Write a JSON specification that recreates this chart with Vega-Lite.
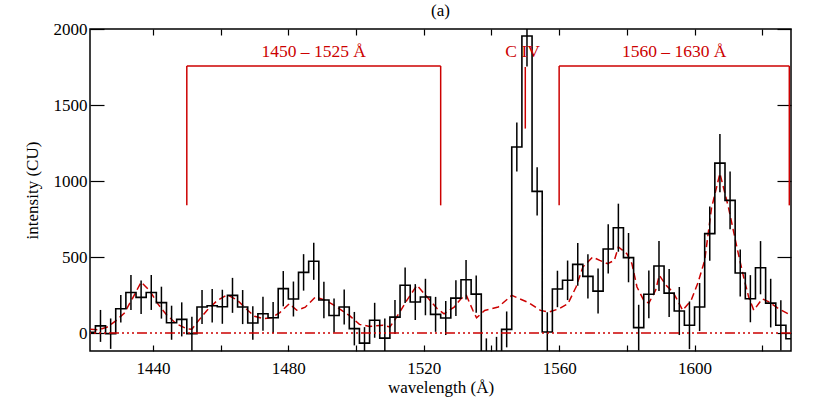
{
  "$schema": "https://vega.github.io/schema/vega-lite/v6.json",
  "width": 701,
  "height": 322,
  "autosize": "none",
  "padding": {"left": 90, "top": 29, "right": 26, "bottom": 58},
  "background": "white",
  "title": {"text": "(a)", "font": "Liberation Serif", "fontSize": 17, "fontWeight": "normal", "color": "black", "offset": 0},
  "config": {
    "view": {"stroke": "black", "strokeWidth": 1.5},
    "axis": {"grid": false, "domain": false, "tickColor": "black", "tickWidth": 1.2, "labelFont": "Liberation Serif", "labelFontSize": 17, "labelColor": "black", "titleFont": "Liberation Serif", "titleFontSize": 17, "titleFontWeight": "normal", "titleColor": "black"}
  },
  "datasets": {
    "bins": [
      {"lam": 1421.5, "v": 5, "e": null},
      {"lam": 1424.5, "v": 47, "e": 105},
      {"lam": 1427.5, "v": -4, "e": 100},
      {"lam": 1430.5, "v": 160, "e": 90},
      {"lam": 1433.5, "v": 267, "e": 115},
      {"lam": 1436.5, "v": 235, "e": 110},
      {"lam": 1439.5, "v": 267, "e": 115},
      {"lam": 1442.5, "v": 200, "e": 105},
      {"lam": 1445.5, "v": 68, "e": 112},
      {"lam": 1448.5, "v": 90, "e": 112},
      {"lam": 1451.5, "v": -4, "e": 112},
      {"lam": 1454.5, "v": 171, "e": 112},
      {"lam": 1457.5, "v": 180, "e": 110},
      {"lam": 1460.5, "v": 173, "e": 112},
      {"lam": 1463.5, "v": 248, "e": 115},
      {"lam": 1466.5, "v": 171, "e": 112},
      {"lam": 1469.5, "v": 66, "e": 110},
      {"lam": 1472.5, "v": 127, "e": 112},
      {"lam": 1475.5, "v": 101, "e": 103},
      {"lam": 1478.5, "v": 292, "e": 116},
      {"lam": 1481.5, "v": 224, "e": 115},
      {"lam": 1484.5, "v": 399, "e": 120},
      {"lam": 1487.5, "v": 472, "e": 122},
      {"lam": 1490.5, "v": 217, "e": 120},
      {"lam": 1493.5, "v": 116, "e": 112},
      {"lam": 1496.5, "v": 171, "e": 115},
      {"lam": 1499.5, "v": 29, "e": 110},
      {"lam": 1502.5, "v": -66, "e": 105},
      {"lam": 1505.5, "v": 84, "e": 115},
      {"lam": 1508.5, "v": -33, "e": 128},
      {"lam": 1511.5, "v": 105, "e": 112},
      {"lam": 1514.5, "v": 314, "e": 117},
      {"lam": 1517.5, "v": 204, "e": 118},
      {"lam": 1520.5, "v": 237, "e": 120},
      {"lam": 1523.5, "v": 123, "e": 115},
      {"lam": 1526.5, "v": 99, "e": 112},
      {"lam": 1529.5, "v": 230, "e": 118},
      {"lam": 1532.5, "v": 351, "e": 130},
      {"lam": 1535.5, "v": 256, "e": 122},
      {"lam": 1538.5, "v": -140, "e": 105},
      {"lam": 1541.5, "v": -135, "e": 110},
      {"lam": 1544.5, "v": 24, "e": 118},
      {"lam": 1547.5, "v": 1224, "e": 161},
      {"lam": 1550.5, "v": 1954, "e": 200},
      {"lam": 1553.5, "v": 932, "e": 158},
      {"lam": 1556.5, "v": 7, "e": 130},
      {"lam": 1559.5, "v": 290, "e": 120},
      {"lam": 1562.5, "v": 347, "e": 130},
      {"lam": 1565.5, "v": 452, "e": 140},
      {"lam": 1568.5, "v": 373, "e": 145},
      {"lam": 1571.5, "v": 276, "e": 148},
      {"lam": 1574.5, "v": 553, "e": 162},
      {"lam": 1577.5, "v": 693, "e": 158},
      {"lam": 1580.5, "v": 496, "e": 162},
      {"lam": 1583.5, "v": 36, "e": 150},
      {"lam": 1586.5, "v": 255, "e": 157},
      {"lam": 1589.5, "v": 441, "e": 165},
      {"lam": 1592.5, "v": 263, "e": 158},
      {"lam": 1595.5, "v": 145, "e": 158},
      {"lam": 1598.5, "v": 51, "e": 157},
      {"lam": 1601.5, "v": 171, "e": 158},
      {"lam": 1604.5, "v": 654, "e": 178},
      {"lam": 1607.5, "v": 1118, "e": 192},
      {"lam": 1610.5, "v": 873, "e": 190},
      {"lam": 1613.5, "v": 395, "e": 155},
      {"lam": 1616.5, "v": 226, "e": 155},
      {"lam": 1619.5, "v": 430, "e": 175},
      {"lam": 1622.5, "v": 197, "e": 160},
      {"lam": 1625.5, "v": 51, "e": 165},
      {"lam": 1628.5, "v": -37, "e": null}
    ],
    "model": [
      {"lam": 1421.5, "v": 25}, {"lam": 1424, "v": 22}, {"lam": 1426.5, "v": 40}, {"lam": 1429, "v": 80},
      {"lam": 1431.5, "v": 130}, {"lam": 1434, "v": 230}, {"lam": 1436.5, "v": 335}, {"lam": 1439, "v": 280},
      {"lam": 1441.5, "v": 190}, {"lam": 1444, "v": 120}, {"lam": 1447, "v": 60}, {"lam": 1450, "v": 28},
      {"lam": 1451.5, "v": 25}, {"lam": 1453, "v": 70}, {"lam": 1456, "v": 150}, {"lam": 1459, "v": 215},
      {"lam": 1462, "v": 252}, {"lam": 1465, "v": 215}, {"lam": 1468, "v": 150}, {"lam": 1470, "v": 110},
      {"lam": 1472.5, "v": 95}, {"lam": 1475, "v": 100}, {"lam": 1477.5, "v": 135}, {"lam": 1480.3, "v": 193},
      {"lam": 1482.5, "v": 150}, {"lam": 1485, "v": 170}, {"lam": 1488, "v": 237}, {"lam": 1491, "v": 215},
      {"lam": 1494, "v": 176}, {"lam": 1498, "v": 116}, {"lam": 1501, "v": 57}, {"lam": 1504, "v": 44},
      {"lam": 1508, "v": 51}, {"lam": 1510, "v": 40}, {"lam": 1512, "v": 105}, {"lam": 1515, "v": 215},
      {"lam": 1518, "v": 314}, {"lam": 1521, "v": 237}, {"lam": 1524, "v": 160}, {"lam": 1526, "v": 127},
      {"lam": 1529, "v": 171}, {"lam": 1531, "v": 226}, {"lam": 1532.6, "v": 248}, {"lam": 1534.5, "v": 150},
      {"lam": 1535.6, "v": 100}, {"lam": 1538, "v": 149}, {"lam": 1542, "v": 171}, {"lam": 1546, "v": 248},
      {"lam": 1551, "v": 200}, {"lam": 1554.5, "v": 149}, {"lam": 1557, "v": 138}, {"lam": 1560, "v": 160},
      {"lam": 1562.6, "v": 193}, {"lam": 1565, "v": 303}, {"lam": 1567, "v": 434}, {"lam": 1569.9, "v": 500},
      {"lam": 1572, "v": 478}, {"lam": 1574.3, "v": 456}, {"lam": 1576.3, "v": 478}, {"lam": 1577.5, "v": 566},
      {"lam": 1580, "v": 522}, {"lam": 1581.5, "v": 456}, {"lam": 1583, "v": 303}, {"lam": 1585, "v": 215},
      {"lam": 1586.5, "v": 197}, {"lam": 1588.5, "v": 281}, {"lam": 1589.6, "v": 380}, {"lam": 1591.6, "v": 314},
      {"lam": 1593.6, "v": 270}, {"lam": 1595, "v": 215}, {"lam": 1596.5, "v": 150}, {"lam": 1599, "v": 215},
      {"lam": 1601, "v": 330}, {"lam": 1603, "v": 478}, {"lam": 1605, "v": 820}, {"lam": 1607.5, "v": 1050},
      {"lam": 1610, "v": 829}, {"lam": 1612.5, "v": 566}, {"lam": 1614.5, "v": 368}, {"lam": 1616, "v": 237},
      {"lam": 1617.5, "v": 150}, {"lam": 1620, "v": 225}, {"lam": 1622, "v": 205}, {"lam": 1624.5, "v": 165},
      {"lam": 1628.5, "v": 116}
    ],
    "vlines": [
      {"lam": 1450, "v": 840, "v2": 1757},
      {"lam": 1525, "v": 840, "v2": 1757},
      {"lam": 1560, "v": 840, "v2": 1757},
      {"lam": 1628, "v": 840, "v2": 1757},
      {"lam": 1550, "v": 1345, "v2": 1750}
    ],
    "hlines": [
      {"lam": 1450, "lam2": 1525, "v": 1757},
      {"lam": 1560, "lam2": 1628, "v": 1757}
    ],
    "labels": [
      {"lam": 1487.5, "v": 1850, "t": "1450 – 1525 Å"},
      {"lam": 1549.2, "v": 1850, "t": "C IV"},
      {"lam": 1594, "v": 1850, "t": "1560 – 1630 Å"}
    ]
  },
  "resolve": {"axis": {"x": "independent", "y": "independent"}},
  "layer": [
    {
      "data": {"name": "model"},
      "mark": {"type": "line", "color": "#cc0000", "strokeWidth": 1.5, "strokeDash": [7, 4], "clip": true},
      "encoding": {
        "x": {"field": "lam", "type": "quantitative", "scale": {"domain": [1421.4, 1628.5], "nice": false, "zero": false},
          "axis": {"orient": "bottom", "values": [1440, 1460, 1480, 1500, 1520, 1540, 1560, 1580, 1600, 1620], "format": "d", "labelExpr": "datum.value % 40 == 0 ? datum.label : ''", "tickSize": -6, "labelPadding": 15, "title": "wavelength (Å)", "titlePadding": 3, "labelFlush": false}},
        "y": {"field": "v", "type": "quantitative", "scale": {"domain": [-118, 2000], "nice": false, "zero": false},
          "axis": {"orient": "left", "values": [0, 500, 1000, 1500, 2000], "format": "d", "tickSize": -14, "labelPadding": 17, "title": "intensity (CU)", "titlePadding": 12, "labelFlush": false}}
      }
    },
    {
      "data": {"name": "bins"},
      "mark": {"type": "line", "interpolate": "step", "color": "black", "strokeWidth": 1.6, "clip": true},
      "encoding": {
        "x": {"field": "lam", "type": "quantitative", "scale": {"domain": [1421.4, 1628.5], "nice": false, "zero": false},
          "axis": {"orient": "top", "values": [1440, 1460, 1480, 1500, 1520, 1540, 1560, 1580, 1600, 1620], "tickSize": -6, "labels": false, "title": null}},
        "y": {"field": "v", "type": "quantitative", "scale": {"domain": [-118, 2000], "nice": false, "zero": false},
          "axis": {"orient": "right", "values": [0, 500, 1000, 1500, 2000], "tickSize": -14, "labels": false, "title": null}}
      }
    },
    {
      "data": {"name": "bins"},
      "transform": [{"filter": "datum.e != null"}],
      "mark": {"type": "errorbar", "color": "black", "thickness": 1.5, "ticks": false, "clip": true},
      "encoding": {
        "x": {"field": "lam", "type": "quantitative", "scale": {"domain": [1421.4, 1628.5], "nice": false, "zero": false}, "axis": null},
        "y": {"field": "v", "type": "quantitative", "scale": {"domain": [-118, 2000], "nice": false, "zero": false}, "axis": null},
        "yError": {"field": "e"}
      }
    },
    {
      "data": {"values": [{}]},
      "mark": {"type": "rule", "color": "#cc0000", "strokeWidth": 1.5, "strokeDash": [10, 3, 2, 3, 2, 3, 2, 3]},
      "encoding": {
        "y": {"datum": 0, "type": "quantitative", "scale": {"domain": [-118, 2000], "nice": false, "zero": false}, "axis": null}
      }
    },
    {
      "data": {"name": "vlines"},
      "mark": {"type": "rule", "color": "#cc0000", "strokeWidth": 1.5},
      "encoding": {
        "x": {"field": "lam", "type": "quantitative", "scale": {"domain": [1421.4, 1628.5], "nice": false, "zero": false}, "axis": null},
        "y": {"field": "v", "type": "quantitative", "scale": {"domain": [-118, 2000], "nice": false, "zero": false}, "axis": null},
        "y2": {"field": "v2"}
      }
    },
    {
      "data": {"name": "hlines"},
      "mark": {"type": "rule", "color": "#cc0000", "strokeWidth": 1.5},
      "encoding": {
        "x": {"field": "lam", "type": "quantitative", "scale": {"domain": [1421.4, 1628.5], "nice": false, "zero": false}, "axis": null},
        "x2": {"field": "lam2"},
        "y": {"field": "v", "type": "quantitative", "scale": {"domain": [-118, 2000], "nice": false, "zero": false}, "axis": null}
      }
    },
    {
      "data": {"name": "labels"},
      "mark": {"type": "text", "color": "#cc0000", "font": "Liberation Serif", "fontSize": 17.5, "align": "center", "baseline": "middle"},
      "encoding": {
        "x": {"field": "lam", "type": "quantitative", "scale": {"domain": [1421.4, 1628.5], "nice": false, "zero": false}, "axis": null},
        "y": {"field": "v", "type": "quantitative", "scale": {"domain": [-118, 2000], "nice": false, "zero": false}, "axis": null},
        "text": {"field": "t"}
      }
    }
  ]
}
